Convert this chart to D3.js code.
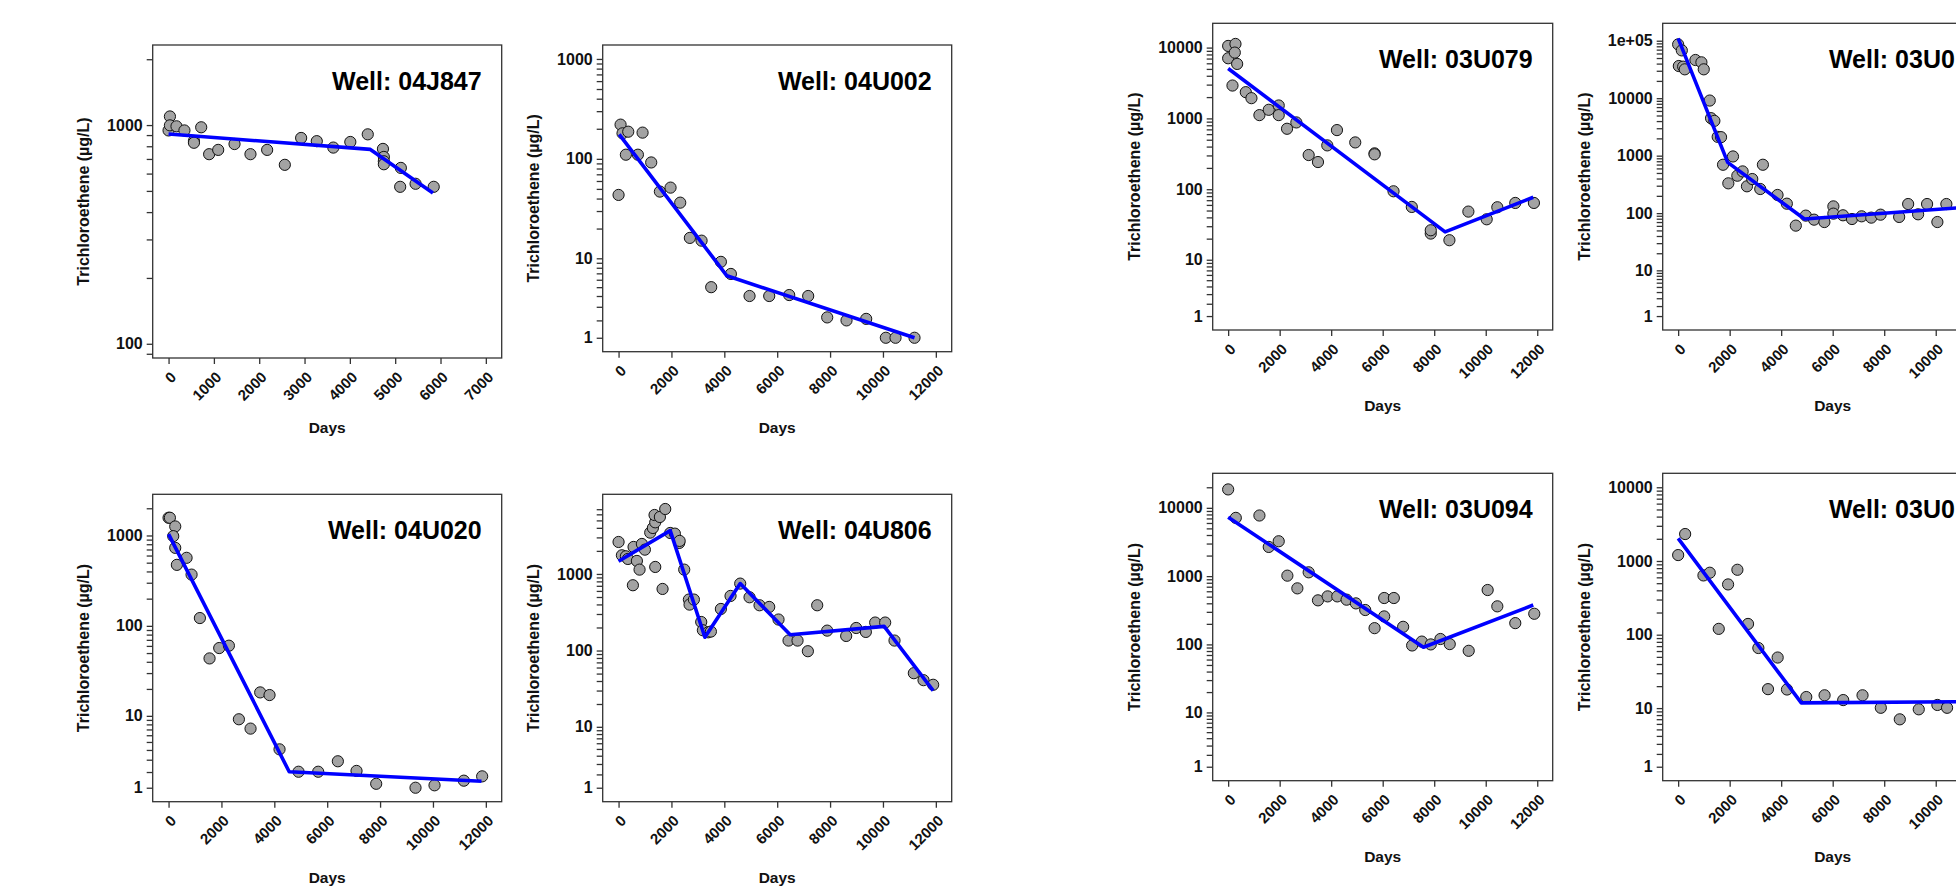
<!DOCTYPE html>
<html>
<head>
<meta charset="utf-8">
<script src="https://cdn.jsdelivr.net/npm/d3@7/dist/d3.min.js"></script>
<style>
  body { margin: 0; background: #fff; overflow: hidden; }
  text { font-family: "Liberation Sans", Arial, sans-serif; font-weight: bold; }
</style>
</head>
<body>
<svg id="chart" width="1956" height="886"></svg>
<script>
// wells, in drawing order (two right-hand names are cut off by the page edge)
const wellNames = ["04J847", "04U002", "04U020", "04U806", "03U079", "03U0", "03U094", "03U0"];

// observed TCE (ug/L) per sampling day
const obs04J847 = [[0,945],[30,1095],[30,997],[175,987],[350,945],[560,846],[560,830],[720,977],[895,736],[1095,770],
  [1455,819],[1807,736],[2175,770],[2565,658],[2925,873],[3270,844],[3635,789],[4010,837],[4395,907],[4730,778],
  [4750,715],[4750,683],[4750,662],[5125,637],[5110,522],[5450,539],[5850,522]];
const obs04U002 = [[0,43.5],[76,220],[150,180],[277,110],[366,187],[731,110],[908,183],[1235,92],[1563,47],[1966,51.5],
  [2332,36.4],[2697,16.1],[3139,15.1],[3504,5.0],[3870,9.2],[4248,6.9],[4954,4.0],[5698,4.0],[6454,4.1],[7172,4.0],
  [7891,2.2],[8622,2.0],[9366,2.1],[10109,1.0],[10475,1.0],[11193,1.0]];
const obs04U020 = [[0,1571],[50,1571],[252,1259],[176,983],[252,730],[315,473],[681,566],[870,369],[1185,122],[1550,43.6],
  [1916,56.8],[2282,60.3],[2660,9.15],[3101,7.16],[3466,18.3],[3819,17.1],[4197,4.07],[4916,2.02],[5660,2.02],[6403,2.86],
  [7109,2.08],[7853,1.23],[9340,1.0],[10059,1.14],[11168,1.42],[11861,1.70]];
const obs04U806 = [[0,2614],[126,1752],[277,1700],[353,1569],[542,712],[567,2250],[693,1478],[794,1139],[882,2463],[996,2076],
  [1197,3462],[1298,3982],[1387,1234],[1387,4720],[1361,5882],[1563,5541],[1664,637],[1765,7045],[1954,3427],[2130,3359],
  [2294,2538],[2310,2700],[2483,1139],[2660,463],[2685,398],[2849,463],[3126,236],[3189,184],[3391,173],[3492,177],
  [3870,349],[4235,516],[4601,748],[4954,496],[5332,390],[5698,371],[6050,254],[6429,135],[6769,135],[7160,98],
  [7513,390],[7891,182],[8609,155],[8987,197],[9353,175],[9706,232],[10084,232],[10437,135],[11168,50.6],[11534,41],[11899,35.7]];
const obs03U079 = [[0,10550],[0,7070],[284,11260],[258,8500],[349,5880],[168,2912],[685,2347],[904,1931],[1214,1113],[1576,1323],
  [1963,1522],[1963,1113],[2286,714],[2648,877],[3126,304],[3487,242],[3849,416],[4224,684],[4934,458],[5684,321],
  [5684,311],[6420,93.5],[7130,56.2],[7866,23.6],[7866,26.3],[8590,19.0],[9326,48.3],[10037,37.6],[10450,55.6],[11147,64],[11871,64]];
const obs03U0a = [[0,86300],[26,36300],[142,67900],[194,35400],[258,31800],[671,46200],[903,42100],[994,31800],[1226,9100],[1277,4490],
  [1406,4030],[1535,2125],[1665,2100],[1742,695],[1948,330],[2129,969],[2297,448],[2503,532],[2671,293],[2877,392],
  [3187,263],[3290,695],[3858,207],[4219,146],[4568,60.6],[4955,90.5],[5277,77],[5677,70],[6026,131],[6026,98],
  [6400,91.7],[6748,79],[7122,88],[7497,83.5],[7858,94],[8580,85.8],[8929,144],[9316,95.4],[9664,144],[10064,70],[10413,144]];
const obs03U094 = [[0,18600],[297,7130],[1214,7720],[1576,2675],[1963,3240],[2299,1016],[2687,662],[3126,1137],[3487,442],[3862,505],
  [4237,505],[4598,452],[4960,399],[5322,319],[5684,173],[6058,478],[6058,257],[6433,478],[6794,181],[7143,96.5],
  [7518,110],[7866,100],[8241,120],[8603,101],[9339,80.6],[10075,626],[10450,361],[11147,205],[11884,281]];
const obs03U0b = [[0,1203],[271,2321],[982,637],[1227,693],[1576,120],[1938,481],[2300,760],[2713,140],[3114,66],[3488,18.2],
  [3863,49],[4225,18],[4974,14.2],[5685,15],[6408,12.9],[7158,15],[7868,10.1],[8605,6.97],[9341,9.62],[10065,11.05],[10440,10.1]];

// piecewise (segmented) trend lines
const fit04J847 = [[0,910],[4452,774],[5833,489]];
const fit04U002 = [[25,176],[4097,6.6],[11193,1.0]];
const fit04U020 = [[0,1035],[4563,2.02],[11836,1.38]];
const fit04U806 = [[0,1463],[1954,3677],[3265,149],[4601,748],[6492,161],[10046,207],[11899,30]];
const fit03U079 = [[0,5060],[8422,24.9],[11845,76.9]];
const fit03U0a = [[0,109700],[1923,763],[4903,79],[11850,133]];
const fit03U094 = [[0,7300],[7582,91],[11845,377]];
const fit03U0b = [[0,2028],[4780,11.8],[11850,12.3]];

const observations = [obs04J847, obs04U002, obs04U020, obs04U806, obs03U079, obs03U0a, obs03U094, obs03U0b];
const fits = [fit04J847, fit04U002, fit04U020, fit04U806, fit03U079, fit03U0a, fit03U094, fit03U0b];

// axis limits (before the 5% expansion) and x tick spacing
const yLimits = [[100,2000],[1,1000],[1,2000],[1,7200],[1,14000],[1,115000],[1,20000],[1,10000]];
const xLimits = [[0,7000],[0,12000],[0,12000],[0,12000],[0,12000],[0,12000],[0,12000],[0,12000]];
const xSteps = [1000, 2000, 2000, 2000, 2000, 2000, 2000, 2000];

// panel boxes [left, top, right, bottom], "Days" baseline, y-title offset
const layout = [
  {box: [152.7, 45, 501.7, 358], days: 432.7, ylab: 69},
  {box: [602.7, 45, 951.7, 351.7], days: 432.7, ylab: 69},
  {box: [152.7, 494.3, 501.7, 801.7], days: 882.7, ylab: 69},
  {box: [602.7, 494.3, 951.7, 801.7], days: 882.7, ylab: 69},
  {box: [1212.7, 23.3, 1552.7, 330], days: 411, ylab: 78},
  {box: [1662.7, 23.3, 2002.7, 330], days: 411, ylab: 78},
  {box: [1212.7, 473.3, 1552.7, 780.7], days: 861.7, ylab: 78},
  {box: [1662.7, 473.3, 2002.7, 780.7], days: 861.7, ylab: 78}
];

const pageW = 1956;
const svg = d3.select("#chart");
svg.append("rect").attr("width", pageW).attr("height", 886).attr("fill", "#fff");

// pseudo-log transform (asinh), like ggplot's pseudo_log_trans
const pl = v => Math.asinh(v / 2);

function expand(a, b) {
  const pad = (b - a) * 0.05;
  return [a - pad, b + pad];
}

function fmtY(v) {
  return v >= 1e5 ? "1e+05" : String(v);
}

// width of a full title, for the titles cut by the page edge
const probe = svg.append("text").attr("font-size", 25).text("Well: 03U079");
const fullTitleW = probe.node().getComputedTextLength();
probe.remove();

layout.forEach((p, i) => {
  const [L, T, R, B] = p.box;
  const g = svg.append("g");

  const x = d3.scaleLinear().domain(expand(xLimits[i][0], xLimits[i][1])).range([L, R]);
  const uDom = expand(pl(yLimits[i][0]), pl(yLimits[i][1]));
  const y = d3.scaleLinear().domain(uDom).range([B, T]);

  // log ticks: m * 10^k from the panel bottom up to the upper limit
  const yTicks = [];
  for (let k = 0; k <= 5; k++) {
    for (let m = 1; m <= 9; m++) {
      const v = m * Math.pow(10, k);
      if (pl(v) >= uDom[0] && v <= yLimits[i][1]) yTicks.push(v);
    }
  }

  const yAxis = g.append("g")
    .attr("transform", `translate(${L},0)`)
    .call(d3.axisLeft(y)
      .tickValues(yTicks.map(pl))
      .tickSize(6)
      .tickPadding(4)
      .tickFormat((d, j) => {
        const v = yTicks[j];
        return Math.log10(v) % 1 === 0 ? fmtY(v) : "";
      }));
  yAxis.select(".domain").remove();
  yAxis.selectAll("line").attr("stroke", "#333").attr("stroke-width", 1.3);
  yAxis.selectAll("text").attr("font-size", 16).attr("fill", "#111")
    .style("font-family", '"Liberation Sans", Arial, sans-serif').style("font-weight", "bold");

  // x ticks that fall beyond the page edge are left out
  const xTicks = d3.range(xLimits[i][0], xLimits[i][1] + 1, xSteps[i]).filter(d => x(d) < pageW);
  const xAxis = g.append("g")
    .attr("transform", `translate(0,${B})`)
    .call(d3.axisBottom(x)
      .tickValues(xTicks)
      .tickSize(6)
      .tickFormat(d3.format("d")));
  xAxis.select(".domain").remove();
  xAxis.selectAll("line").attr("stroke", "#333").attr("stroke-width", 1.3);
  xAxis.selectAll("text")
    .attr("font-size", 15).attr("fill", "#111")
    .style("font-family", '"Liberation Sans", Arial, sans-serif').style("font-weight", "bold")
    .attr("x", null).attr("y", null).attr("dy", null)
    .attr("text-anchor", "end")
    .attr("transform", "translate(8,20) rotate(-45)");

  // points, then the fitted line on top
  g.append("g").selectAll("circle")
    .data(observations[i])
    .enter()
    .append("circle")
    .attr("cx", d => x(d[0]))
    .attr("cy", d => y(pl(d[1])))
    .attr("r", 5.6)
    .attr("fill", "#a3a3a3")
    .attr("stroke", "#111")
    .attr("stroke-width", 1);

  g.append("path")
    .attr("d", d3.line().x(d => x(d[0])).y(d => y(pl(d[1])))(fits[i]))
    .attr("fill", "none")
    .attr("stroke", "#0000ff")
    .attr("stroke-width", 3.6)
    .attr("stroke-linejoin", "round");

  // panel border
  g.append("rect")
    .attr("x", L).attr("y", T)
    .attr("width", R - L).attr("height", B - T)
    .attr("fill", "none")
    .attr("stroke", "#333")
    .attr("stroke-width", 1.3);

  // title
  const name = wellNames[i];
  const title = g.append("text")
    .attr("y", T + 44.5)
    .attr("font-size", 25)
    .attr("fill", "#000")
    .text("Well: " + name);
  if (name.length < 6) {
    title.attr("x", R - 20 - fullTitleW).attr("text-anchor", "start");
  } else {
    title.attr("x", R - 20).attr("text-anchor", "end");
  }

  // axis titles
  g.append("text")
    .attr("x", (L + R) / 2)
    .attr("y", p.days)
    .attr("text-anchor", "middle")
    .attr("font-size", 15.5)
    .attr("fill", "#111")
    .text("Days");

  g.append("text")
    .attr("transform", `translate(${L - p.ylab},${(T + B) / 2}) rotate(-90)`)
    .attr("text-anchor", "middle")
    .attr("dominant-baseline", "central")
    .attr("font-size", 16)
    .attr("fill", "#111")
    .text("Trichloroethene (µg/L)");
});
</script>
</body>
</html>
